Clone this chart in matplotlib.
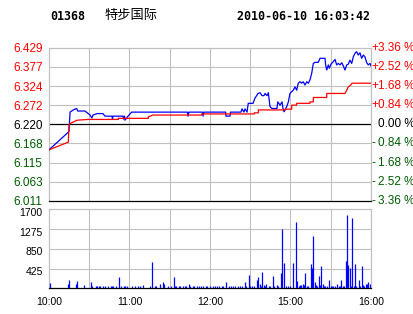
import matplotlib
matplotlib.use('Agg')
import matplotlib.pyplot as plt
from matplotlib.transforms import ScaledTranslation

# ---------------- data ----------------
stock_code = "01368"
stock_name = "特步国际"
stamp = "2010-06-10 16:03:42"
prev_close = 6.220

price_ticks = [6.011, 6.063, 6.115, 6.168, 6.220, 6.272, 6.324, 6.377, 6.429]
price_labels = ['6.011', '6.063', '6.115', '6.168', '6.220', '6.272', '6.324', '6.377', '6.429']
pct_signs = ['-', '-', '-', '-', '', '+', '+', '+', '+']
pct_labels = ['3.36 %', '2.52 %', '1.68 %', '0.84 %', '0.00 %', '0.84 %', '1.68 %', '2.52 %', '3.36 %']

time_ticks = [0, 60, 120, 180, 240]          # trading minutes since 10:00
time_labels = ['10:00', '11:00', '12:00', '15:00', '16:00']
grid_minutes = [30, 60, 90, 120, 150, 180, 210]

vol_ticks = [425, 850, 1275, 1700]
vol_labels = ['425', '850', '1275', '1700']

# price line (minute, price)
price_t = [0, 14.9, 15.7, 18.1, 20.6, 21.4, 26.8, 30.6, 32.0, 32.8, 35.8, 40.2, 41.7, 47.0, 47.3,
           47.7, 55.2, 55.5, 56.3, 56.6, 58.9, 61.6, 103.2, 103.6, 104.3, 114.4, 114.8, 115.5,
           131.7, 131.9, 134.9, 135.3, 143.1, 143.9, 145.3, 146.1, 147.6, 148.5, 152.1, 153.5,
           155.8, 157.3, 158.8, 160.2, 161.0, 162.5, 163.5, 164.7, 166.2, 169.9, 170.5, 172.2,
           173.7, 174.4, 175.2, 177.2, 178.4, 179.6, 182.1, 183.4, 184.6, 185.8, 187.1, 188.3,
           189.5, 190.8, 192.1, 193.3, 194.5, 195.8, 197.0, 198.3, 200.7, 202.0, 205.7, 206.2,
           207.0, 208.2, 208.9, 210.2, 211.9, 213.2, 214.4, 215.6, 216.9, 218.2, 219.4, 220.6,
           221.9, 223.1, 224.3, 225.6, 226.8, 228.1, 229.3, 230.5, 231.8, 233.0, 234.3, 235.5,
           236.8, 238.0, 239.3, 240]
price_v = [6.150, 6.200, 6.253, 6.259, 6.263, 6.256, 6.256, 6.245, 6.237, 6.245, 6.249, 6.249, 6.242, 6.242, 6.234,
           6.242, 6.242, 6.234, 6.242, 6.231, 6.242, 6.253, 6.253, 6.242, 6.253, 6.253, 6.242, 6.253,
           6.253, 6.242, 6.242, 6.253, 6.253, 6.262, 6.253, 6.262, 6.253, 6.277, 6.277, 6.291,
           6.304, 6.306, 6.298, 6.298, 6.304, 6.298, 6.306, 6.268, 6.263, 6.263, 6.281, 6.272,
           6.281, 6.263, 6.254, 6.268, 6.281, 6.304, 6.313, 6.322, 6.313, 6.332, 6.336, 6.332,
           6.336, 6.327, 6.336, 6.332, 6.341, 6.359, 6.386, 6.389, 6.389, 6.400, 6.400, 6.382,
           6.368, 6.382, 6.373, 6.384, 6.391, 6.397, 6.382, 6.386, 6.382, 6.388, 6.379, 6.368,
           6.382, 6.384, 6.395, 6.386, 6.404, 6.414, 6.418, 6.409, 6.415, 6.400, 6.409, 6.404,
           6.388, 6.382, 6.386, 6.379]

# average price line (minute, price)
avg_t = [0, 14.4, 14.9, 16.9, 21.1, 29.3, 51.7, 51.7, 74.0, 74.0, 77.5, 113.8, 113.8, 153.0, 153.0,
         156.0, 156.0, 175.9, 175.9, 180.9, 180.9, 184.6, 184.6, 194.5, 194.5, 197.0, 197.0,
         207.0, 207.0, 220.6, 221.9, 223.1, 225.1, 225.8, 240]
avg_v = [6.150, 6.171, 6.220, 6.224, 6.231, 6.233, 6.233, 6.236, 6.236, 6.240, 6.245, 6.245, 6.248, 6.248, 6.251,
         6.251, 6.259, 6.259, 6.261, 6.261, 6.272, 6.272, 6.277, 6.277, 6.281, 6.281, 6.293,
         6.293, 6.304, 6.304, 6.313, 6.322, 6.328, 6.332, 6.332]

# volume bars (minute, volume)
vol_t = [1, 14, 15, 20, 21, 26,
         31, 32, 35, 36, 37, 38, 40, 42, 44, 46, 47, 48, 50, 52, 54, 56, 57, 58,
         62, 64, 66, 68, 70, 75, 77, 79, 80, 83, 85, 86, 89,
         91, 93, 94, 95, 97, 98, 100, 101, 102, 104, 105, 107, 108, 110, 112, 113, 115, 117, 118, 120, 122, 124,
         125, 127, 129, 130, 132, 134, 136, 137, 139, 141, 142, 144, 146, 147,
         149, 150, 151, 153, 155, 156, 157, 158, 159, 160, 161, 162, 164, 165, 167, 168, 170, 171, 173, 174, 175, 177, 178, 180,
         182, 184, 185, 186, 187, 188, 189, 190, 191, 192, 193, 195, 196, 197, 198, 199, 200, 201, 202, 203, 204, 205,
         206, 207, 209, 210, 211, 212, 213, 215, 216, 217, 218, 219, 220, 221, 222, 223, 224, 225, 226, 227, 228, 229,
         231, 232, 233, 234, 235, 236, 237, 238, 239, 240]
vol_v = [110, 90, 180, 90, 160, 70,
         135, 50, 45, 50, 45, 50, 45, 45, 45, 50, 45, 45, 45, 250, 45, 50, 45, 40,
         45, 45, 45, 50, 72, 45, 570, 45, 45, 93, 143, 93, 45,
         50, 250, 45, 45, 45, 45, 45, 45, 45, 93, 45, 45, 45, 45, 45, 45, 45, 45, 45, 45, 45, 45,
         45, 45, 45, 50, 143, 45, 45, 45, 45, 45, 45, 45, 143, 50,
         287, 60, 50, 45, 179, 237, 100, 50, 358, 70, 50, 100, 60, 50, 265, 60, 80, 45, 337, 1268, 552, 50, 50, 45,
         552, 1426, 165, 60, 80, 80, 100, 80, 337, 60, 60, 523, 444, 1125, 143, 80, 60, 265, 80, 480, 100, 50,
         60, 60, 179, 60, 50, 60, 50, 100, 50, 60, 179, 60, 60, 595, 1577, 502, 430, 60, 1506, 60, 523, 50,
         179, 50, 480, 80, 60, 100, 100, 140, 100, 80]

# ---------------- styling ----------------
RED = '#ff0000'
GREEN = '#005a00'
GRID = '#c0c0c0'
W, H = 414, 314
LAB = 'Liberation Sans'

fig = plt.figure(figsize=(W / 100, H / 100), dpi=100)
fig.patch.set_facecolor('white')

def box(x0, y0, x1, y1):
    return [x0 / W, 1 - y1 / H, (x1 - x0) / W, (y1 - y0) / H]

axp = fig.add_axes(box(49, 47.7, 371, 200.7))
axv = fig.add_axes(box(49, 209.3, 371, 288.3))

for ax in (axp, axv):
    ax.set_xlim(0, 240)
    for s in ('left', 'top', 'right'):
        ax.spines[s].set_color(GRID)
        ax.spines[s].set_linewidth(0.9)
    ax.spines['bottom'].set_color('black')
    ax.spines['bottom'].set_linewidth(0.9)
    for m in grid_minutes:
        ax.axvline(m, color=GRID, lw=0.8, zorder=0)

# price panel
axp.set_ylim(price_ticks[0], price_ticks[-1])
for y in price_ticks[1:-1]:
    if y == prev_close:
        continue
    axp.axhline(y, color=GRID, lw=0.8, zorder=0)
axp.axhline(prev_close, color='black', lw=0.9, zorder=1)
axp.plot(price_t, price_v, color='#0000ff', lw=0.9, zorder=3)
axp.plot(avg_t, avg_v, color=RED, lw=0.9, zorder=4)
axp.set_xticks([])
axp.set_yticks(price_ticks, price_labels)
axp.tick_params(axis='y', length=0, pad=4.5, labelsize=8.5)
for lab, y in zip(axp.get_yticklabels(), price_ticks):
    lab.set_fontfamily(LAB)
    lab.set_color(RED if y > prev_close else ('black' if y == prev_close else GREEN))

trans = axp.get_yaxis_transform()
for y, sgn, lab in zip(price_ticks, pct_signs, pct_labels):
    col = RED if y > prev_close else ('black' if y == prev_close else GREEN)
    if sgn:
        axp.text(1.0, y, sgn, transform=trans + ScaledTranslation(0.5 / 100, 0, fig.dpi_scale_trans),
                 ha='left', va='center', color=col, fontsize=8.5, family=LAB, clip_on=False)
    axp.text(1.0, y, lab, transform=trans + ScaledTranslation(7 / 100, 0, fig.dpi_scale_trans),
             ha='left', va='center', color=col, fontsize=8.5, family=LAB, clip_on=False)

# volume panel
axv.set_ylim(0, 1700)
for y in vol_ticks[:-1]:
    axv.axhline(y, color=GRID, lw=0.8, zorder=0)
axv.vlines(vol_t, 0, vol_v, color='#0000ff', lw=0.9, zorder=3)
axv.set_yticks(vol_ticks, vol_labels)
axv.tick_params(axis='y', length=0, pad=4.5, labelsize=7.5)
for lab in axv.get_yticklabels():
    lab.set_fontfamily(LAB)
    lab.set_transform(lab.get_transform() + ScaledTranslation(0, -2.5 / 100, fig.dpi_scale_trans))
axv.set_xticks(time_ticks, time_labels)
axv.tick_params(axis='x', length=0, pad=6, labelsize=7.5)
for lab in axv.get_xticklabels():
    lab.set_fontfamily(LAB)

# header
fig.text(50 / W, 1 - 16 / H, stock_code, ha='left', va='center', fontsize=8.4,
         family='DejaVu Sans Mono', weight='bold')
fig.text(104 / W, 1 - 15.5 / H, stock_name, ha='left', va='center', fontsize=9.5,
         family=['Noto Sans CJK SC', 'DejaVu Sans'])
fig.text(370 / W, 1 - 16 / H, stamp, ha='right', va='center', fontsize=8.4,
         family='DejaVu Sans Mono', weight='bold')

fig.savefig('out.png', dpi=100)
